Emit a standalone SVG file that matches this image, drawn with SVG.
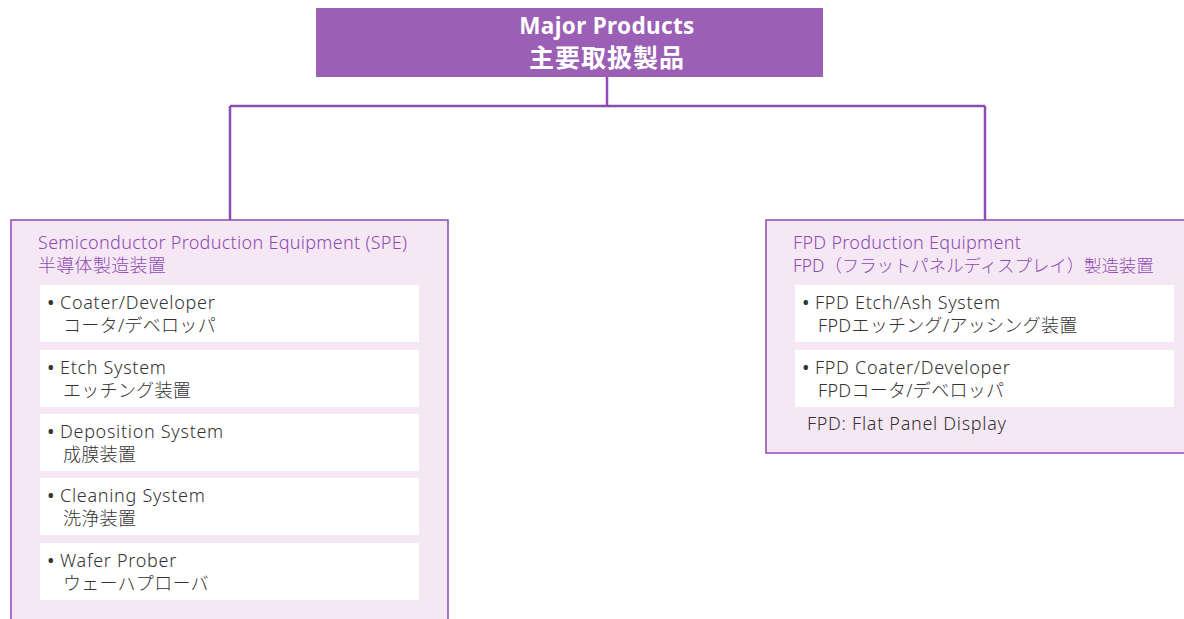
<svg xmlns="http://www.w3.org/2000/svg" width="1184" height="619" viewBox="0 0 1184 619">
<style>
.head{font-family:"Noto Sans","Noto Sans CJK JP",sans-serif;font-weight:700;font-size:22.5px;fill:#ffffff;letter-spacing:0.35px}
.headj{font-family:"Noto Sans CJK JP",sans-serif;font-weight:700;font-size:25px;fill:#ffffff;letter-spacing:1px}
.grp{fill:#f5e8f4;stroke:#8e4bb3;stroke-width:1.5}
.cap{font-family:"Noto Sans","Noto Sans CJK JP",sans-serif;font-weight:300;font-size:18px;fill:#8e4bb3;letter-spacing:0.3px}
.item{fill:#ffffff}
.txt{font-family:"Noto Sans","Noto Sans CJK JP",sans-serif;font-weight:300;font-size:18px;fill:#333333;letter-spacing:0.7px}
.jp{font-family:"Noto Sans","Noto Sans CJK JP",sans-serif;font-weight:300;font-size:18px;fill:#333333;letter-spacing:0.3px}
.bul{font-family:"Noto Sans",sans-serif;font-size:20px;fill:#333333}
.con{fill:none;stroke:#8e4bb3;stroke-width:2.5}
</style>
<g id="connectors">
<path class="con" d="M607 77 V106 M230 106 H985 M230 106 V220 M985 106 V220"/>
</g>
<g id="major">
<rect x="316" y="8" width="507" height="69" fill="#9b5fb5"/>
<text class="head" x="607" y="34" text-anchor="middle">Major Products</text>
<text class="headj" x="607" y="67" text-anchor="middle">主要取扱製品</text>
</g>
<g id="spe">
<rect class="grp" x="11" y="220" width="437" height="410"/>
<text class="cap" x="38" y="249">Semiconductor Production Equipment (SPE)</text>
<text class="cap" x="38" y="272">半導体製造装置</text>
<g id="spe-coater">
<rect class="item" x="40" y="285" width="379" height="57"/>
<text class="bul" x="47" y="310">•</text>
<text class="txt" x="60" y="309">Coater/Developer</text>
<text class="jp" x="63" y="332">コータ/デベロッパ</text>
</g>
<g id="spe-etch">
<rect class="item" x="40" y="350" width="379" height="57"/>
<text class="bul" x="47" y="375">•</text>
<text class="txt" x="60" y="374">Etch System</text>
<text class="jp" x="63" y="397">エッチング装置</text>
</g>
<g id="spe-dep">
<rect class="item" x="40" y="414" width="379" height="57"/>
<text class="bul" x="47" y="439">•</text>
<text class="txt" x="60" y="438">Deposition System</text>
<text class="jp" x="63" y="461">成膜装置</text>
</g>
<g id="spe-clean">
<rect class="item" x="40" y="478" width="379" height="57"/>
<text class="bul" x="47" y="503">•</text>
<text class="txt" x="60" y="502">Cleaning System</text>
<text class="jp" x="63" y="525">洗浄装置</text>
</g>
<g id="spe-prober">
<rect class="item" x="40" y="543" width="379" height="57"/>
<text class="bul" x="47" y="568">•</text>
<text class="txt" x="60" y="567">Wafer Prober</text>
<text class="jp" x="63" y="590">ウェーハプローバ</text>
</g>
</g>
<g id="fpd">
<rect class="grp" x="766" y="220" width="430" height="233"/>
<text class="cap" x="793" y="249">FPD Production Equipment</text>
<text class="cap" x="793" y="272" style="font-size:17.4px;letter-spacing:0">FPD（フラットパネルディスプレイ）製造装置</text>
<g id="fpd-etch">
<rect class="item" x="795" y="285" width="379" height="57"/>
<text class="bul" x="802" y="310">•</text>
<text class="txt" x="815" y="309">FPD Etch/Ash System</text>
<text class="jp" x="818" y="332">FPDエッチング/アッシング装置</text>
</g>
<g id="fpd-coater">
<rect class="item" x="795" y="350" width="379" height="57"/>
<text class="bul" x="802" y="375">•</text>
<text class="txt" x="815" y="374">FPD Coater/Developer</text>
<text class="jp" x="818" y="397">FPDコータ/デベロッパ</text>
</g>
<text class="txt" x="807" y="430">FPD: Flat Panel Display</text>
</g>
</svg>
